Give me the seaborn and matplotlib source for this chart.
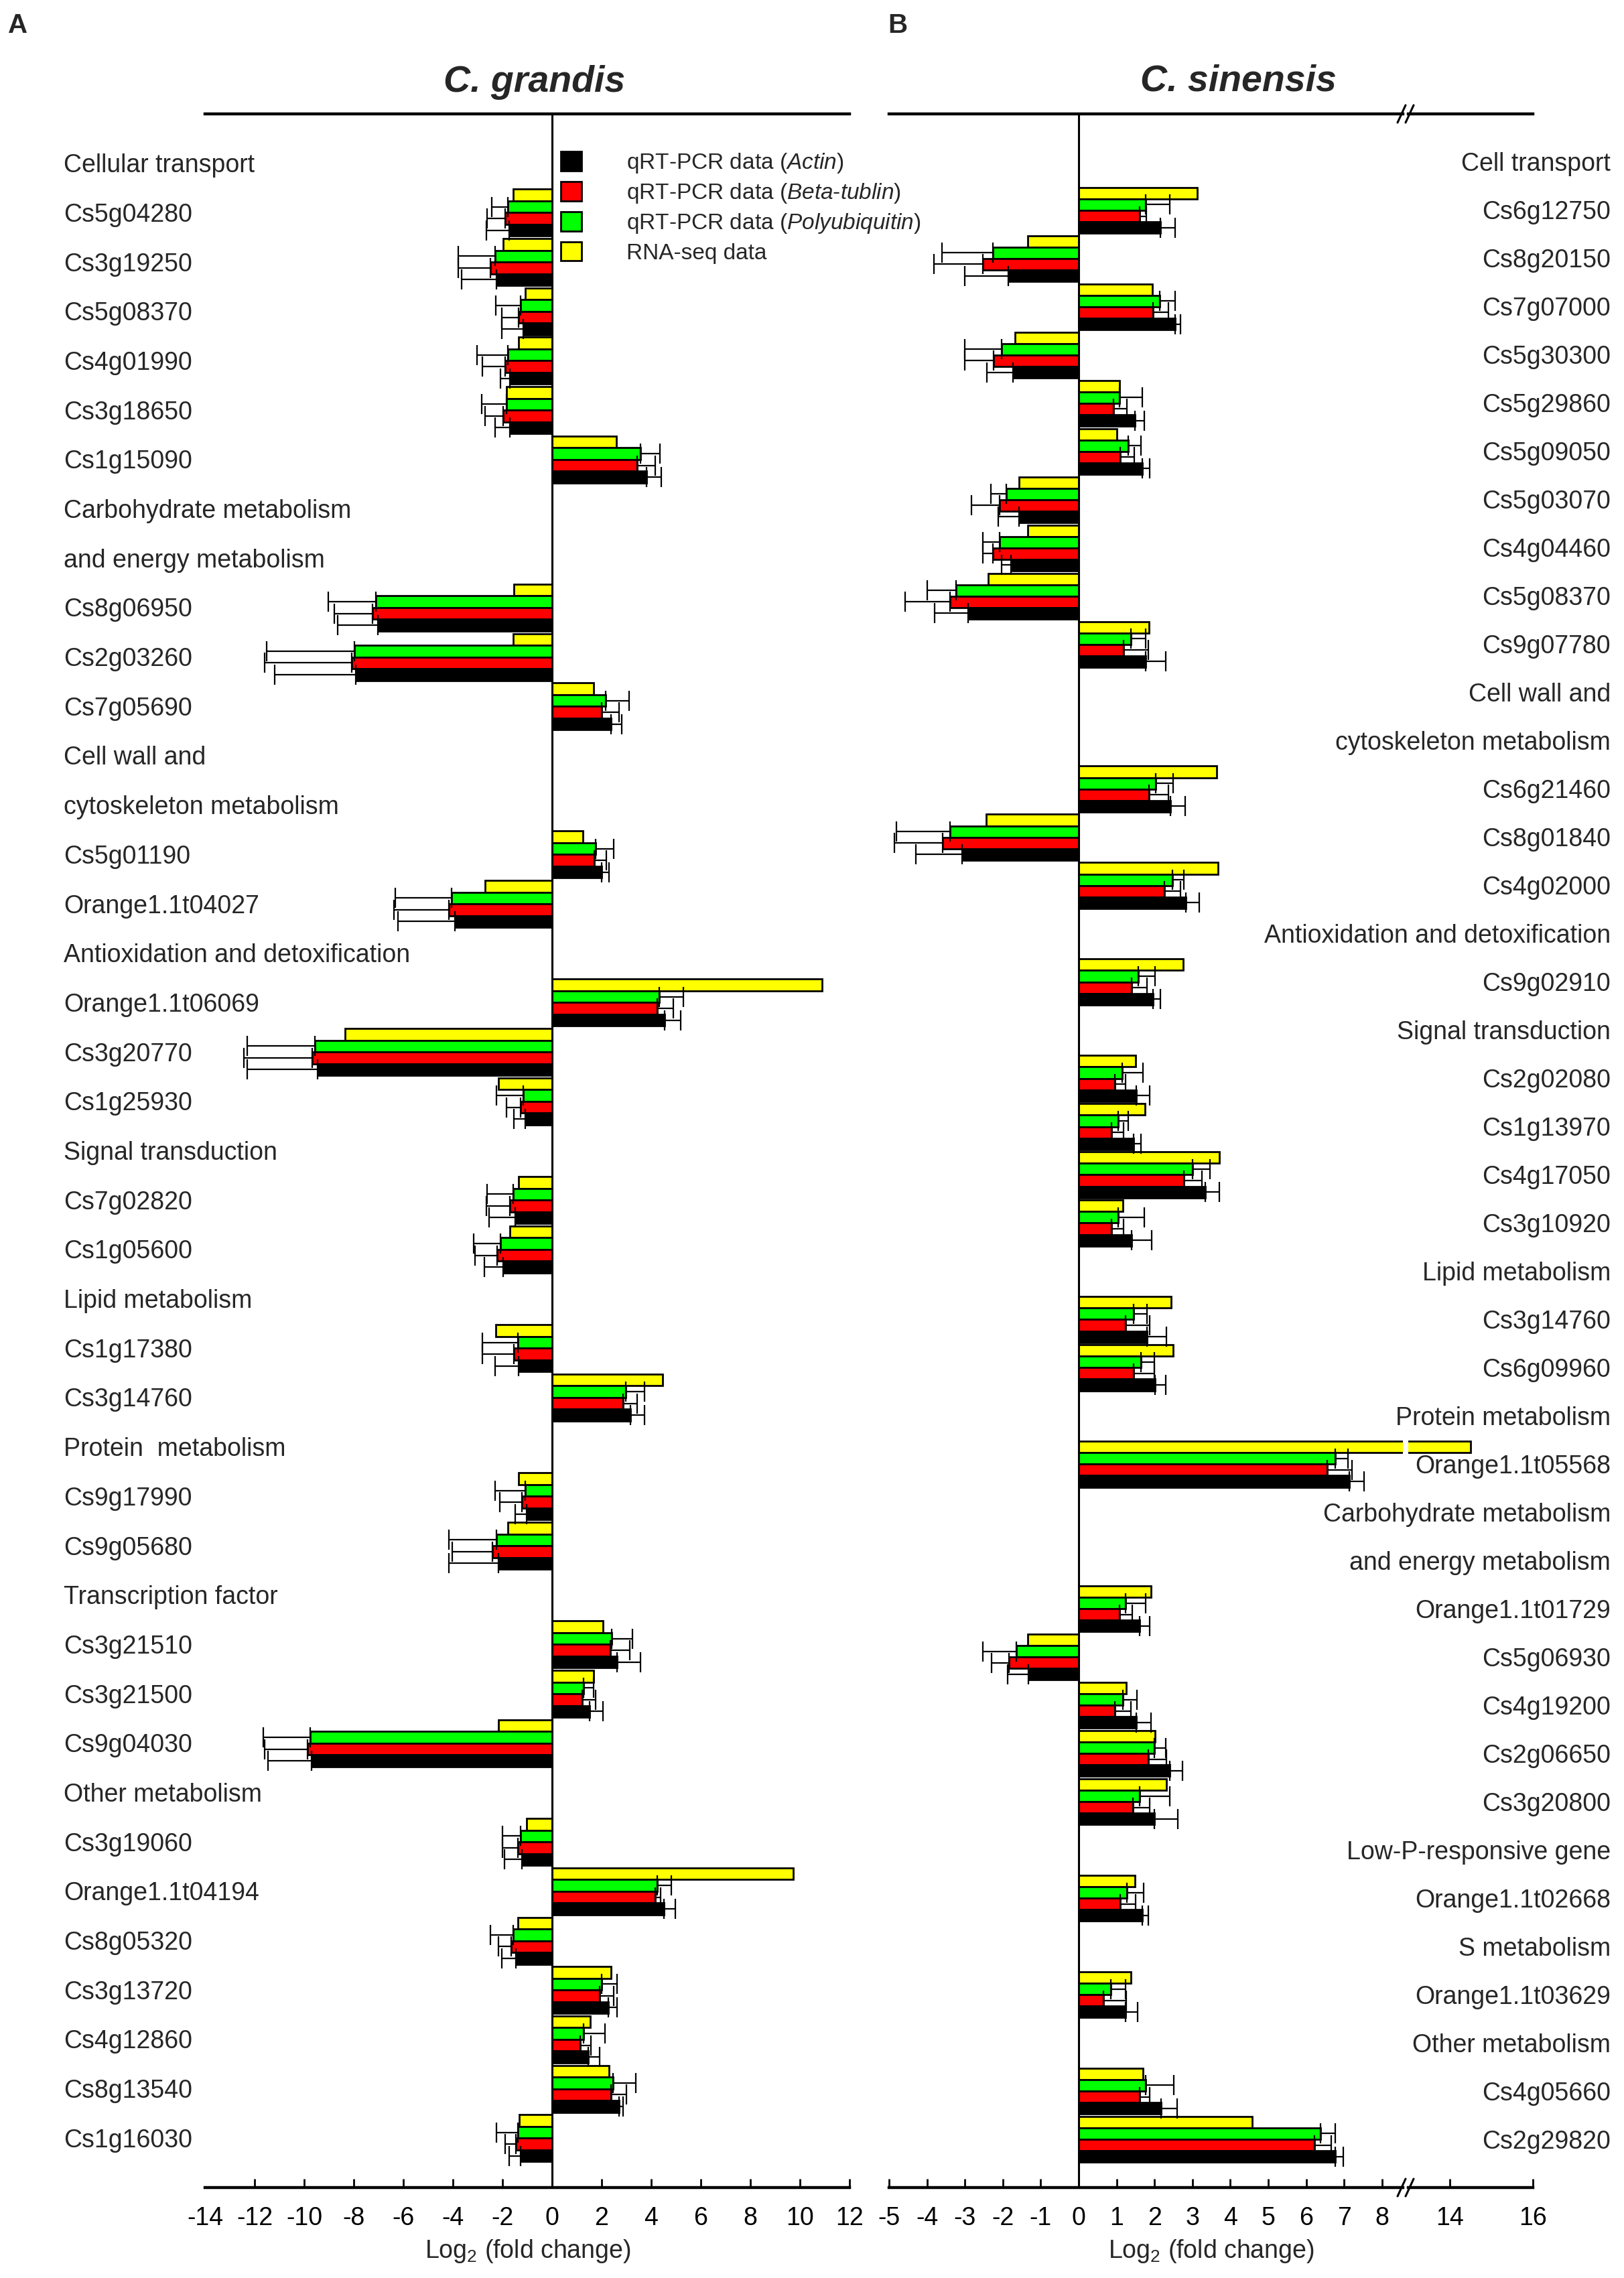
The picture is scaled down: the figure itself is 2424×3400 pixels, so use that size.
import numpy as np
import pandas as pd
import matplotlib
matplotlib.use("Agg")
import matplotlib.pyplot as plt
import matplotlib.transforms as mtransforms
from matplotlib.lines import Line2D
from matplotlib.patches import Patch
import seaborn as sns

sns.set_style("white")
plt.rcParams['font.family'] = ['Liberation Sans', 'DejaVu Sans']
plt.rcParams['mathtext.fontset'] = 'custom'
plt.rcParams['mathtext.rm'] = 'Liberation Sans'
plt.rcParams['mathtext.it'] = 'Liberation Sans:italic'
plt.rcParams['axes.unicode_minus'] = False

# ---- C. grandis (panel A) ----
left_rows = ["Cellular transport", "Cs5g04280", "Cs3g19250", "Cs5g08370", "Cs4g01990",
             "Cs3g18650", "Cs1g15090", "Carbohydrate metabolism", "and energy metabolism",
             "Cs8g06950", "Cs2g03260", "Cs7g05690", "Cell wall and", "cytoskeleton metabolism",
             "Cs5g01190", "Orange1.1t04027", "Antioxidation and detoxification", "Orange1.1t06069",
             "Cs3g20770", "Cs1g25930", "Signal transduction", "Cs7g02820", "Cs1g05600",
             "Lipid metabolism", "Cs1g17380", "Cs3g14760", "Protein  metabolism", "Cs9g17990",
             "Cs9g05680", "Transcription factor", "Cs3g21510", "Cs3g21500", "Cs9g04030",
             "Other metabolism", "Cs3g19060", "Orange1.1t04194", "Cs8g05320", "Cs3g13720",
             "Cs4g12860", "Cs8g13540", "Cs1g16030"]
left_genes = ["Cs5g04280", "Cs3g19250", "Cs5g08370", "Cs4g01990", "Cs3g18650", "Cs1g15090",
              "Cs8g06950", "Cs2g03260", "Cs7g05690", "Cs5g01190", "Orange1.1t04027",
              "Orange1.1t06069", "Cs3g20770", "Cs1g25930", "Cs7g02820", "Cs1g05600",
              "Cs1g17380", "Cs3g14760", "Cs9g17990", "Cs9g05680", "Cs3g21510", "Cs3g21500",
              "Cs9g04030", "Cs3g19060", "Orange1.1t04194", "Cs8g05320", "Cs3g13720",
              "Cs4g12860", "Cs8g13540", "Cs1g16030"]
left_actin = [-1.73, -2.24, -1.16, -1.70, -1.70, 3.81, -7.03, -7.92, 2.37, 2.00, -3.93, 4.54,
              -9.47, -1.08, -1.50, -1.97, -1.35, 3.17, -1.04, -2.15, 2.63, 1.52, -9.70, -1.22,
              4.50, -1.46, 2.28, 1.47, 2.71, -1.27]
left_actin_err = [0.93, 1.42, 0.88, 0.37, 0.60, 0.60, 1.62, 3.28, 0.43, 0.31, 2.29, 0.66,
                  2.84, 0.47, 1.04, 0.77, 0.96, 0.56, 0.46, 2.01, 0.95, 0.54, 1.76, 0.70,
                  0.47, 0.58, 0.34, 0.46, 0.15, 0.46]
left_beta = [-1.90, -2.48, -1.35, -1.90, -1.97, 3.42, -7.23, -8.08, 2.00, 1.69, -4.16, 4.23,
             -9.68, -1.27, -1.69, -2.21, -1.53, 2.86, -1.22, -2.40, 2.34, 1.21, -9.87, -1.38,
             4.15, -1.66, 1.93, 1.13, 2.37, -1.46]
left_beta_err = [0.73, 1.31, 0.67, 0.90, 0.74, 0.73, 1.55, 3.51, 0.71, 0.49, 2.23, 0.66,
                 2.74, 0.57, 0.97, 0.89, 1.27, 0.56, 0.90, 1.64, 0.80, 0.54, 1.72, 0.62,
                 0.23, 0.51, 0.56, 0.43, 0.62, 0.43]
left_poly = [-1.78, -2.31, -1.27, -1.78, -1.84, 3.58, -7.10, -7.98, 2.17, 1.76, -4.06, 4.32,
             -9.58, -1.15, -1.58, -2.07, -1.38, 2.96, -1.08, -2.24, 2.40, 1.28, -9.76, -1.27,
             4.23, -1.58, 2.01, 1.28, 2.45, -1.38]
left_poly_err = [0.65, 1.48, 1.00, 1.25, 1.00, 0.77, 1.94, 3.53, 0.94, 0.73, 2.26, 0.99,
                 2.73, 1.08, 1.04, 1.09, 1.42, 0.77, 1.23, 1.92, 0.84, 0.39, 1.88, 0.73,
                 0.58, 0.90, 0.61, 0.86, 0.92, 0.85]
left_rnaseq = [-1.58, -1.97, -1.07, -1.35, -1.84, 2.60, -1.55, -1.58, 1.67, 1.24, -2.69, 10.88,
               -8.34, -2.15, -1.35, -1.70, -2.28, 4.46, -1.35, -1.78, 2.06, 1.67, -2.17, -1.04,
               9.72, -1.38, 2.37, 1.55, 2.29, -1.32]

# ---- C. sinensis (panel B) ----
right_rows = ["Cell transport", "Cs6g12750", "Cs8g20150", "Cs7g07000", "Cs5g30300", "Cs5g29860",
              "Cs5g09050", "Cs5g03070", "Cs4g04460", "Cs5g08370", "Cs9g07780", "Cell wall and",
              "cytoskeleton metabolism", "Cs6g21460", "Cs8g01840", "Cs4g02000",
              "Antioxidation and detoxification", "Cs9g02910", "Signal transduction",
              "Cs2g02080", "Cs1g13970", "Cs4g17050", "Cs3g10920", "Lipid metabolism",
              "Cs3g14760", "Cs6g09960", "Protein metabolism", "Orange1.1t05568",
              "Carbohydrate metabolism", "and energy metabolism", "Orange1.1t01729",
              "Cs5g06930", "Cs4g19200", "Cs2g06650", "Cs3g20800", "Low-P-responsive gene",
              "Orange1.1t02668", "S metabolism", "Orange1.1t03629", "Other metabolism",
              "Cs4g05660", "Cs2g29820"]
right_genes = ["Cs6g12750", "Cs8g20150", "Cs7g07000", "Cs5g30300", "Cs5g29860", "Cs5g09050",
               "Cs5g03070", "Cs4g04460", "Cs5g08370", "Cs9g07780", "Cs6g21460", "Cs8g01840",
               "Cs4g02000", "Cs9g02910", "Cs2g02080", "Cs1g13970", "Cs4g17050", "Cs3g10920",
               "Cs3g14760", "Cs6g09960", "Orange1.1t05568", "Orange1.1t01729", "Cs5g06930",
               "Cs4g19200", "Cs2g06650", "Cs3g20800", "Orange1.1t02668", "Orange1.1t03629",
               "Cs4g05660", "Cs2g29820"]
right_actin = [2.16, -1.86, 2.54, -1.73, 1.49, 1.68, -1.58, -1.78, -2.92, 1.76, 2.42, -3.07,
               2.83, 1.96, 1.52, 1.44, 3.34, 1.40, 1.81, 2.01, 7.13, 1.60, -1.32, 1.52, 2.40,
               2.00, 1.68, 1.24, 2.18, 6.77]
right_actin_err = [0.38, 1.14, 0.15, 0.69, 0.24, 0.20, 0.54, 0.25, 0.87, 0.53, 0.39, 1.22,
                   0.35, 0.20, 0.36, 0.21, 0.37, 0.53, 0.51, 0.28, 0.39, 0.28, 0.56, 0.39,
                   0.33, 0.61, 0.16, 0.32, 0.42, 0.21]
right_beta = [1.60, -2.52, 1.96, -2.24, 0.91, 1.10, -2.08, -2.27, -3.40, 1.19, 1.85, -3.58,
              2.26, 1.39, 0.95, 0.86, 2.77, 0.86, 1.24, 1.44, 6.55, 1.07, -1.83, 0.95, 1.84,
              1.43, 1.09, 0.65, 1.60, 6.21]
right_beta_err = [0.18, 1.29, 0.41, 0.76, 0.36, 0.37, 0.74, 0.25, 1.17, 0.64, 0.52, 1.28,
                  0.43, 0.42, 0.29, 0.33, 0.48, 0.33, 0.64, 0.56, 0.65, 0.35, 0.46, 0.42,
                  0.47, 0.45, 0.41, 0.61, 0.28, 0.45]
right_poly = [1.76, -2.26, 2.14, -2.03, 1.07, 1.30, -1.91, -2.08, -3.24, 1.37, 2.03, -3.40,
              2.47, 1.58, 1.15, 1.04, 3.00, 1.04, 1.45, 1.65, 6.76, 1.24, -1.65, 1.17, 2.00,
              1.60, 1.28, 0.85, 1.77, 6.38]
right_poly_err = [0.65, 1.35, 0.40, 0.97, 0.61, 0.35, 0.41, 0.44, 0.75, 0.39, 0.46, 1.41,
                  0.30, 0.43, 0.54, 0.27, 0.47, 0.69, 0.35, 0.35, 0.35, 0.52, 0.87, 0.37,
                  0.29, 0.80, 0.44, 0.39, 0.74, 0.39]
right_rnaseq = [3.12, -1.34, 1.95, -1.68, 1.07, 1.00, -1.58, -1.34, -2.39, 1.86, 3.63, -2.44,
                3.67, 2.76, 1.51, 1.75, 3.71, 1.17, 2.44, 2.49, 14.5, 1.91, -1.35, 1.25, 2.01,
                2.31, 1.49, 1.38, 1.69, 4.57]

series = ["RNA-seq data", "qRT-PCR data (Polyubiquitin)", "qRT-PCR data (Beta-tublin)",
          "qRT-PCR data (Actin)"]
colors = {"qRT-PCR data (Actin)": "#000000", "qRT-PCR data (Beta-tublin)": "#ff0000",
          "qRT-PCR data (Polyubiquitin)": "#00ff00", "RNA-seq data": "#ffff00"}
legend_labels = [r"qRT-PCR data ($\mathit{Actin}$)",
                 r"qRT-PCR data ($\mathit{Beta}$-$\mathit{tublin}$)",
                 r"qRT-PCR data ($\mathit{Polyubiquitin}$)",
                 "RNA-seq data"]
BAR_W = 0.95
W, H = 2424, 3400


def make_frame(genes, actin, beta, poly, rnaseq):
    vals = {"qRT-PCR data (Actin)": actin, "qRT-PCR data (Beta-tublin)": beta,
            "qRT-PCR data (Polyubiquitin)": poly, "RNA-seq data": rnaseq}
    recs = []
    for s in series:
        for g, v in zip(genes, vals[s]):
            recs.append({"row": g, "series": s, "value": v})
    return pd.DataFrame(recs)


def draw_panel(ax, df, rows, genes, errs):
    sns.barplot(data=df, x="value", y="row", hue="series", order=rows, hue_order=series,
                palette=colors, saturation=1, orient="h", width=BAR_W, dodge=True,
                edgecolor="black", linewidth=2.0, errorbar=None, legend=False, ax=ax, zorder=2)
    for s, (vals, err) in errs.items():
        j = series.index(s)
        pos = np.array([rows.index(g) for g in genes]) + (j - 1.5) * BAR_W / 4
        vals = np.array(vals)
        err = np.array(err)
        lo = np.where(vals < 0, err, 0)
        hi = np.where(vals > 0, err, 0)
        ax.errorbar(vals, pos, xerr=[lo, hi], fmt="none", ecolor="black", elinewidth=1.6,
                    capsize=11, capthick=1.6, zorder=3)
    ax.set_ylim(len(rows), -1)
    ax.set_yticks([])
    ax.set_xlabel("")
    ax.set_ylabel("")
    ax.patch.set_visible(False)
    for side in ["left", "right"]:
        ax.spines[side].set_visible(False)
    for side in ["top", "bottom"]:
        ax.spines[side].set_linewidth(3.2)
        ax.spines[side].set_color("black")
    ax.tick_params(axis="x", direction="in", length=9.5, width=2, labelsize=27, pad=20,
                   bottom=True, top=False, colors="black")


fig = plt.figure(figsize=(W / 100, H / 100), dpi=100)
y0 = 1 - 3265 / H
hgt = (3265 - 170) / H

axL = fig.add_axes([306 / W, y0, (1268 - 306) / W, hgt])
axR = fig.add_axes([1327 / W, y0, (2094 - 1327) / W, hgt])
axR2 = fig.add_axes([2102 / W, y0, (2288 - 2102) / W, hgt])

dfL = make_frame(left_genes, left_actin, left_beta, left_poly, left_rnaseq)
errL = {"qRT-PCR data (Polyubiquitin)": (left_poly, left_poly_err),
        "qRT-PCR data (Beta-tublin)": (left_beta, left_beta_err),
        "qRT-PCR data (Actin)": (left_actin, left_actin_err)}
draw_panel(axL, dfL, left_rows, left_genes, errL)
axL.set_xlim(-14, 12)
axL.set_xticks(range(-14, 13, 2))
axL.xaxis.get_major_ticks()[0].tick1line.set_visible(False)
axL.axvline(0, color="black", lw=2.2, zorder=4)

dfR = make_frame(right_genes, right_actin, right_beta, right_poly, right_rnaseq)
errR = {"qRT-PCR data (Polyubiquitin)": (right_poly, right_poly_err),
        "qRT-PCR data (Beta-tublin)": (right_beta, right_beta_err),
        "qRT-PCR data (Actin)": (right_actin, right_actin_err)}
draw_panel(axR, dfR, right_rows, right_genes, errR)
axR.set_xlim(-5, 8.55)
axR.set_xticks(range(-5, 9))
axR.axvline(0, color="black", lw=2.2, zorder=4)

draw_panel(axR2, dfR, right_rows, right_genes, errR)
axR2.set_xlim(13, 16)
axR2.set_xticks([14, 16])

# row labels
trL = mtransforms.blended_transform_factory(fig.transFigure, axL.transData)
for i, lab in enumerate(left_rows):
    axL.text(95 / W, i + 13.5 / 73.7, lab, transform=trL, ha="left", va="baseline",
             fontsize=27, clip_on=False)
trR = mtransforms.blended_transform_factory(fig.transFigure, axR.transData)
for i, lab in enumerate(right_rows):
    axR.text(2404 / W, i + 13.5 / 72.0, lab, transform=trR, ha="right", va="baseline",
             fontsize=27, clip_on=False)

# titles, panel letters, axis labels
fig.text(798 / W, 1 - 137 / H, "C. grandis", fontsize=40, fontweight="bold",
         fontstyle="italic", ha="center", va="baseline")
fig.text(1848 / W, 1 - 136 / H, "C. sinensis", fontsize=40, fontweight="bold",
         fontstyle="italic", ha="center", va="baseline")
fig.text(12 / W, 1 - 49 / H, "A", fontsize=29, fontweight="bold", ha="left", va="baseline")
fig.text(1325 / W, 1 - 49 / H, "B", fontsize=29, fontweight="bold", ha="left", va="baseline")
fig.text(788 / W, 1 - 3360 / H, r"Log$_2$ (fold change)", fontsize=27, ha="center", va="center")
fig.text(1808 / W, 1 - 3360 / H, r"Log$_2$ (fold change)", fontsize=27, ha="center", va="center")

# axis break marks
for yb in (170, 3265):
    for xb in (2092, 2104):
        fig.add_artist(Line2D([(xb - 6) / W, (xb + 6) / W], [1 - (yb + 13) / H, 1 - (yb - 13) / H],
                              color="black", lw=2.2))

# legend
handles = [Patch(facecolor=colors[s], edgecolor="black", linewidth=2)
           for s in ["qRT-PCR data (Actin)", "qRT-PCR data (Beta-tublin)",
                     "qRT-PCR data (Polyubiquitin)", "RNA-seq data"]]
fig.legend(handles, legend_labels, loc="upper left", bbox_to_anchor=(837 / W, 1 - 226 / H),
           frameon=False, fontsize=24, handlelength=0.93, handleheight=0.93,
           handletextpad=2.0, labelspacing=0.3, borderpad=0, borderaxespad=0)

fig.savefig("out.png", dpi=100, facecolor="white")
